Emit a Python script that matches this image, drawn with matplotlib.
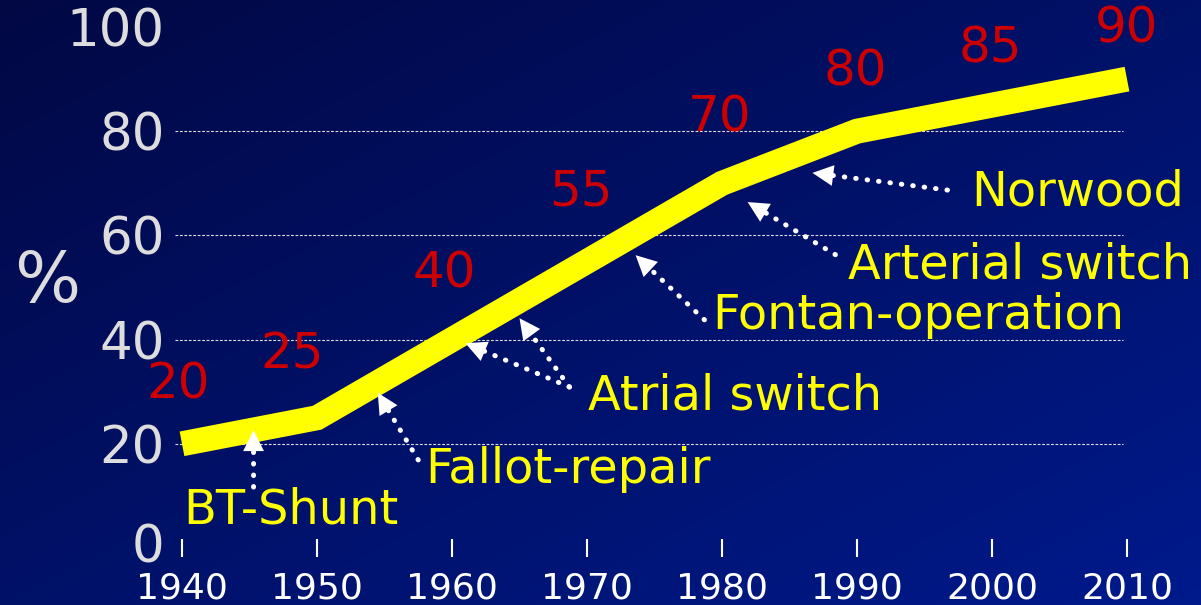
import numpy as np
import matplotlib.pyplot as plt
from matplotlib.transforms import ScaledTranslation

years = [1940, 1950, 1960, 1970, 1980, 1990, 2000, 2010]
survival = [20, 25, 40, 55, 70, 80, 85, 90]
y_ticks = [0, 20, 40, 60, 80, 100]
grid_levels = [20, 40, 60, 80]

procedures = ["BT-Shunt", "Fallot-repair", "Atrial switch",
              "Fontan-operation", "Arterial switch", "Norwood"]
# where each arrow points (year, %) and where its label sits
arrow_tips = [[(1945.3, 22.6)], [(1954.5, 29.8)],
              [(1961.0, 39.3), (1965.0, 44.1)], [(1973.6, 56.2)],
              [(1981.9, 66.4)], [(1986.7, 72.0)]]
arrow_tails = [(1945.3, 11.7), (1957.5, 16.9), (1968.7, 30.9),
               (1978.7, 43.8), (1988.4, 56.3), (1996.7, 68.7)]
label_pos = [(1940.1, 7.3), (1958.0, 15.0), (1970.1, 29.2),
             (1979.3, 44.7), (1989.3, 54.3), (1998.5, 68.3)]
# offsets (pixels) of the red value labels above the curve
value_offsets = [(-4, 59), (-25, 63), (-8, 66), (-6, 70),
                 (-2, 66), (-2, 60), (-2, 57), (0, 51)]

plt.rcParams['font.family'] = ['DejaVu Sans']

fig = plt.figure(figsize=(12.01, 6.05), dpi=100)

# background gradient
bg = fig.add_axes([0, 0, 1, 1])
yy, xx = np.mgrid[0:1:200j, 0:1:200j]
t = (xx + yy) / 2
c0 = np.array([2, 8, 68]) / 255
c1 = np.array([0, 26, 140]) / 255
bg.imshow(c0 + t[..., None] * (c1 - c0), aspect='auto', extent=[0, 1, 0, 1])
bg.axis('off')

ax = fig.add_axes([170 / 1201, 57 / 605, 970 / 1201, 521 / 605])
ax.patch.set_visible(False)
ax.set_xlim(1940 - 12 / 13.5, 2010 + 13 / 13.5)
ax.set_ylim(0, 100)
for s in ax.spines.values():
    s.set_visible(False)

ax.hlines(grid_levels, 1939.5, 2009.7, colors='#DDDDDD', linestyles=(0, (2.5, 1.5)), lw=0.8)

ax.plot(years, survival, color='#FFFF00', lw=18, solid_joinstyle='miter',
        solid_capstyle='butt', clip_on=False, zorder=3)

ax.set_xticks(years)
ax.tick_params(axis='x', direction='inout', length=13, width=1.5, colors='white',
               labelsize=26, pad=10.5)
ax.set_yticks(y_ticks)
ax.tick_params(axis='y', length=0, pad=4, labelsize=37, labelcolor='#DDDDDD')

# lift the "0" a little so it clears the year labels
zero_lbl = ax.get_yticklabels()[0]
zero_lbl.set_transform(zero_lbl.get_transform() + ScaledTranslation(0, 5 / 100, fig.dpi_scale_trans))

ax.set_ylabel('%', rotation=0, fontsize=50, color='#DDDDDD', va='center', ha='center')
ax.yaxis.set_label_coords(-0.127, 0.509)

for yr, v, off in zip(years, survival, value_offsets):
    ax.annotate(str(v), (yr, v), xytext=off, textcoords='offset pixels',
                ha='center', va='center', color='#CC0000', fontsize=36, zorder=4)

for name, tips, tail, pos in zip(procedures, arrow_tips, arrow_tails, label_pos):
    ax.text(pos[0], pos[1], name, ha='left', va='center', color='#FFFF00', fontsize=34.5)
    for tip in tips:
        ax.annotate('', xy=tip, xytext=tail,
                    arrowprops=dict(arrowstyle='-', color='white', lw=3.6,
                                    linestyle=(0, (0.1, 2.2)), capstyle='round',
                                    shrinkA=0, shrinkB=13))
        ax.annotate('', xy=tip, xytext=tail,
                    arrowprops=dict(arrowstyle='-|>,head_length=1.0,head_width=0.5',
                                    color='white', lw=0, mutation_scale=15,
                                    shrinkA=0, shrinkB=0), zorder=5)

fig.savefig('out.png', dpi=100)
